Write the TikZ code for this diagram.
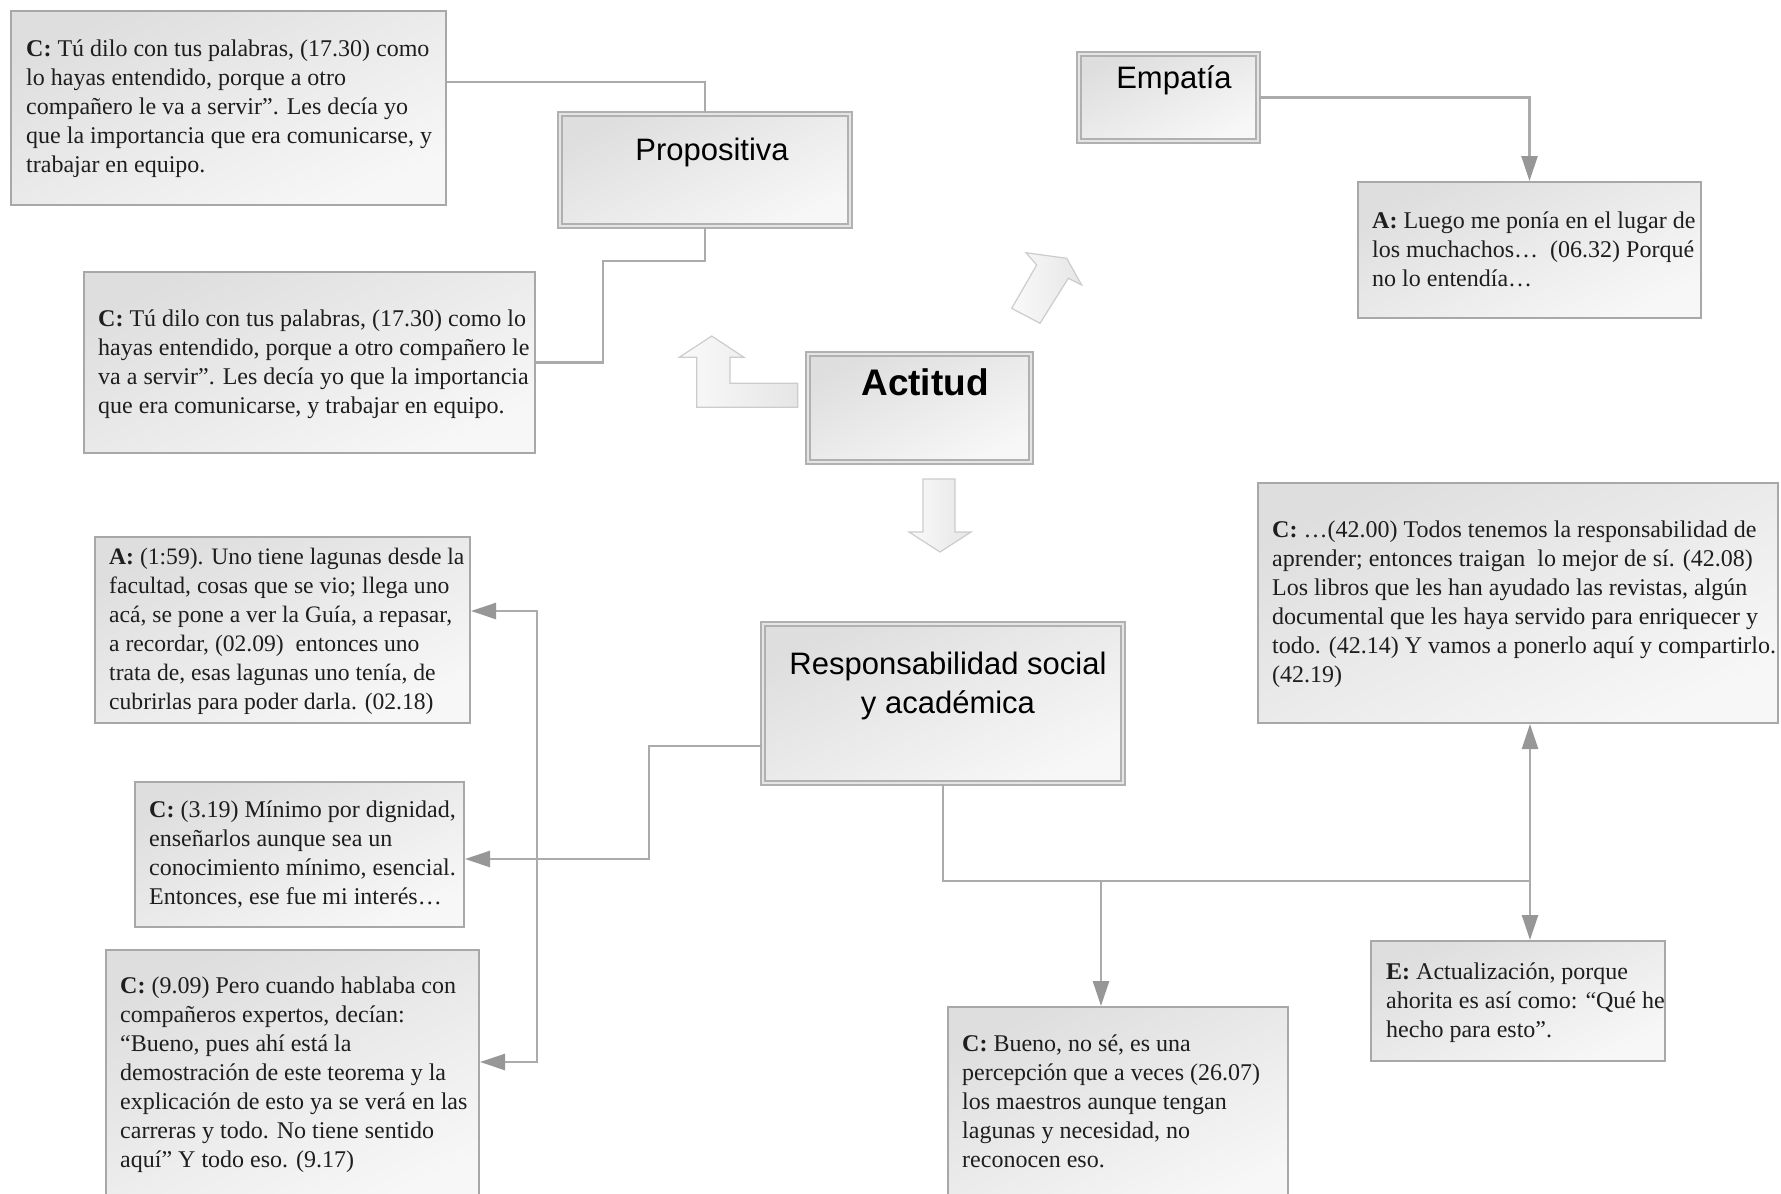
\documentclass[tikz,border=0pt]{standalone}
\usepackage{fontspec}
\setmainfont{Liberation Serif}
\newfontfamily\titlefont{Liberation Sans}
\usetikzlibrary{arrows.meta,fit}

\definecolor{edge}{HTML}{A8A8A8}
\definecolor{wire}{HTML}{ABABAB}
\definecolor{tipc}{HTML}{979797}
\definecolor{boxtop}{HTML}{DEDEDE}
\definecolor{boxbot}{HTML}{F7F7F7}
\definecolor{inkc}{HTML}{1E1E1E}

\newcommand\lnstrut{\rule{0pt}{18pt}}
\newcommand\ttlstrut{\rule{0pt}{24pt}}

\tikzset{
  quotebox/.style={draw=edge, line width=2pt, top color=boxtop, bottom color=boxbot,
    shading angle=25, inner sep=0pt},
  titlebox/.style={draw=edge!90, line width=1.6pt, double=boxtop!80, double distance=2.4pt,
    top color=boxtop, bottom color=boxbot, shading angle=25, inner sep=0pt},
  quotetext/.style={inner sep=0pt, align=left, anchor=north west, text=inkc,
    font=\fontsize{24}{29}\selectfont},
  titletext/.style={inner sep=0pt, text=black, font=\titlefont\fontsize{31}{39}\selectfont},
  wireline/.style={draw=wire, line width=2.5pt},
  wirearrow/.style={wireline, -{Triangle[length=25pt,width=16pt,color=tipc]}},
  fatarrow/.style={draw=gray!40, line width=1.2pt, left color=gray!4, right color=gray!20},
}

\begin{document}
\begin{tikzpicture}[x=1pt,y=-1pt]
\clip (0,0) rectangle (1781,1194);
\fill[white] (0,0) rectangle (1781,1194);

% ---- boxes ----
\node[quotebox, fit={(11,11)(446,205)}] (c1) {};
\node[titlebox, fit={(560,114)(850,226)}] (prop) {};
\node[quotebox, fit={(84,272)(535,453)}] (c2) {};
\node[titlebox, fit={(1079,54)(1258,141)}] (emp) {};
\node[quotebox, fit={(1358,182)(1701,318)}] (a1) {};
\node[titlebox, fit={(808,354)(1031,462)}] (act) {};
\node[quotebox, fit={(1258,483)(1778,723)}] (c6) {};
\node[quotebox, fit={(95,537)(470,723)}] (a2) {};
\node[titlebox, fit={(763,624)(1123,783)}] (resp) {};
\node[quotebox, fit={(135,782)(464,927)}] (c3) {};
\node[quotebox, fit={(106,950)(479,1210)}] (c4) {};
\node[quotebox, fit={(1371,941)(1665,1061)}] (e) {};
\node[quotebox, fit={(948,1007)(1288,1210)}] (c5) {};

% ---- titles ----
\node[titletext, anchor=base] at (712,160) {Propositiva};
\node[titletext, anchor=base] at (1174,88) {Empatía};
\node[titletext, anchor=base, font=\titlefont\bfseries\fontsize{37}{44}\selectfont] at (925,395) {Actitud};
\node[titletext, anchor=north, align=center] at (948,650) {\ttlstrut Responsabilidad social\\y académica};

% ---- quotes ----
\node[quotetext] at (26,38) {\lnstrut\textbf{C:} Tú dilo con tus palabras, (17.30) como\\lo hayas entendido, porque a otro\\compañero le va a servir". Les decía yo\\que la importancia que era comunicarse, y\\trabajar en equipo.};
\node[quotetext] at (98,308) {\lnstrut\textbf{C:} Tú dilo con tus palabras, (17.30) como lo\\hayas entendido, porque a otro compañero le\\va a servir". Les decía yo que la importancia\\que era comunicarse, y trabajar en equipo.};
\node[quotetext] at (1372,210) {\lnstrut\textbf{A:} Luego me ponía en el lugar de\\los muchachos…\ \ (06.32) Porqué\\no lo entendía…};
\node[quotetext] at (1272,519) {\lnstrut\textbf{C:} …(42.00) Todos tenemos la responsabilidad de\\aprender; entonces traigan\ \ lo mejor de sí. (42.08)\\Los libros que les han ayudado las revistas, algún\\documental que les haya servido para enriquecer y\\todo. (42.14) Y vamos a ponerlo aquí y compartirlo.\\(42.19)};
\node[quotetext, font=\fontsize{23.6}{29}\selectfont] at (109,546) {\lnstrut\textbf{A:} (1:59). Uno tiene lagunas desde la\\facultad, cosas que se vio; llega uno\\acá, se pone a ver la Guía, a repasar,\\a recordar, (02.09)\ \ entonces uno\\trata de, esas lagunas uno tenía, de\\cubrirlas para poder darla. (02.18)};
\node[quotetext] at (149,799) {\lnstrut\textbf{C:} (3.19) Mínimo por dignidad,\\enseñarlos aunque sea un\\conocimiento mínimo, esencial.\\Entonces, ese fue mi interés…};
\node[quotetext] at (120,975) {\lnstrut\textbf{C:} (9.09) Pero cuando hablaba con\\compañeros expertos, decían:\\“Bueno, pues ahí está la\\demostración de este teorema y la\\explicación de esto ya se verá en las\\carreras y todo. No tiene sentido\\aquí” Y todo eso. (9.17)};
\node[quotetext] at (1386,961) {\lnstrut\textbf{E:} Actualización, porque\\ahorita es así como: “Qué he\\hecho para esto”.};
\node[quotetext] at (962,1033) {\lnstrut\textbf{C:} Bueno, no sé, es una\\percepción que a veces (26.07)\\los maestros aunque tengan\\lagunas y necesidad, no\\reconocen eso.};

% ---- junction points ----
\coordinate (k1) at (603,261);
\coordinate (k2) at (649,746);
\coordinate (j1) at (537,859);
\coordinate (j1a) at (537,611);
\coordinate (j1b) at (537,1062);
\coordinate (j3) at (1530,881);
\coordinate (j4) at (1101,881);

% ---- connectors ----
\draw[wireline] ([yshift=-72pt]c1.north east) -| (prop.north);
\draw[wireline] (prop.south) |- (k1) |- (c2.east);
\draw[wirearrow] (emp.east) -| (a1.north);
\draw[wirearrow] (k2 -| resp.west) -- (k2) |- (j1 -| c3.east);
\draw[wirearrow] (j1) -- (j1a) -- (j1a -| a2.east);
\draw[wirearrow] (j1) -- (j1b) -- (j1b -| c4.east);
\draw[wireline] (resp.south) |- (j3);
\draw[wirearrow] (j4) -- (j4 |- c5.north);
\draw[wirearrow] (j3) -- (j3 |- c6.south);
\draw[wirearrow] (j3) -- (j3 |- e.north);

% ---- block arrows leaving Actitud ----
\path[fatarrow] (797.7,383.3) -- (797.7,407.3) -- (696.7,407.3) -- (696.7,357.3)
  -- (679.3,357.3) -- (711.7,336) -- (744,357.3) -- (730,357.3) -- (730,383.3) -- cycle;
\path[fatarrow] (1011.7,308.3) -- (1036.7,265) -- (1026,252.7) -- (1066.7,258.3)
  -- (1081.7,285) -- (1068.3,278.3) -- (1040,323.3) -- cycle;
\path[fatarrow] (923,479) -- (955,479) -- (955,532) -- (971,532) -- (940,552)
  -- (909,532) -- (923,532) -- cycle;
\end{tikzpicture}
\end{document}
